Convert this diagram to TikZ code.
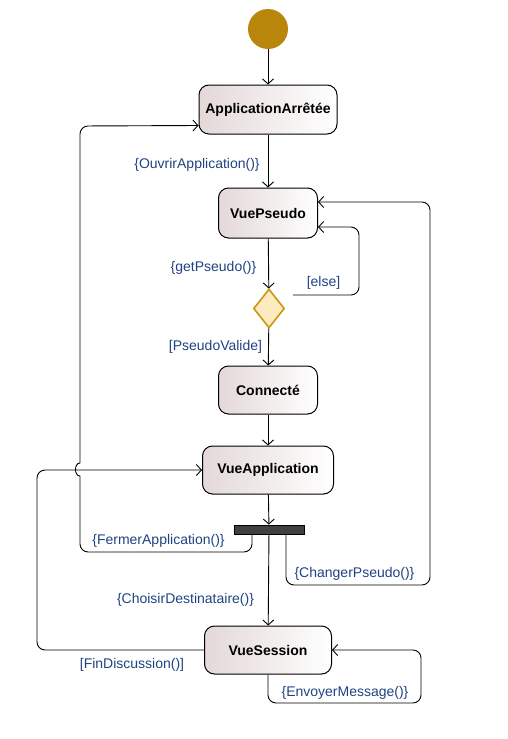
\documentclass[tikz,border=0pt]{standalone}
\usepackage{fontspec}
\setmainfont{Liberation Sans}
\usetikzlibrary{arrows.meta,shapes.geometric}

\definecolor{guardblue}{HTML}{1F4382}
\definecolor{startgold}{HTML}{B8860B}
\definecolor{decfill}{HTML}{FDEBC0}
\definecolor{decline}{HTML}{C9960F}
\definecolor{stateshade}{HTML}{E4D8D8}
\definecolor{barfill}{HTML}{404040}

\tikzset{
  state/.style={draw, line width=1pt, rounded corners=10pt, left color=stateshade, right color=white,
    font=\bfseries\fontsize{14}{16}\selectfont, minimum height=48pt, inner sep=0pt},
  flow/.style={line width=0.9pt, rounded corners=8pt, -{Straight Barb[length=5pt,width=11pt]}},
  guard/.style={text=guardblue, font=\fontsize{14}{16}\selectfont, inner sep=0pt}
}

\begin{document}
\begin{tikzpicture}[x=1pt,y=-1pt]
  \useasboundingbox (0,0) rectangle (508,739);

  % states
  \node[circle, fill=startgold, minimum size=40pt, inner sep=0pt] (start) at (268,29) {};
  \node[state, minimum width=138pt, minimum height=49pt] (arret) at (268,109.5) {ApplicationArrêtée};
  \node[state, minimum width=99pt, minimum height=50pt] (pseudo) at (268,213) {VuePseudo};
  \node[diamond, draw=decline, fill=decfill, line width=1.6pt, minimum width=31pt, minimum height=39pt, inner sep=0pt] (choix) at (269,308.5) {};
  \node[state, minimum width=99pt] (connecte) at (268,390) {Connecté};
  \node[state, minimum width=131pt] (vueapp) at (268,470) {VueApplication};
  \node[draw, fill=barfill, line width=0.8pt, minimum width=70pt, minimum height=9pt, inner sep=0pt] (fork) at (269,529.5) {};
  \node[state, minimum width=127pt] (session) at (268,650) {VueSession};

  % loose ends
  \coordinate (elsestart) at (293,295);

  % transitions
  \draw[flow] (start) -- (arret);
  \draw[flow] (arret) -- (pseudo);
  \draw[flow] (pseudo) -- (choix);
  \draw[flow] (choix) -- (connecte);
  \draw[flow] (connecte) -- (vueapp);
  \draw[flow] (vueapp) -- (fork);
  \draw[flow] (fork) -- (session);
  \draw[flow] (elsestart) -- (359,295) -- (359,227) -- ([yshift=-14pt]pseudo.east);
  \draw[flow] ([xshift=17pt]fork.south) -- (286,585) -- (430,585) -- (430,202) -- ([yshift=11pt]pseudo.east);
  \draw[flow] ([xshift=-17pt]fork.south) -- (252,552) -- (80,552) [sharp corners] -- (80,476)
    .. controls (74,476) and (74,463) .. (80,463) [rounded corners=8pt] -- (80,126) -- ([yshift=-16pt]arret.west);
  \draw[flow] (session.west) -- (37,650) -- (37,470) -- (vueapp.west);
  \draw[flow] (session.south) -- (268,703) -- (421,703) -- (421,650) -- (session.east);

  % guards
  \node[guard] (g1) at (197,165) {\{OuvrirApplication()\}};
  \node[guard] (g2) at (213.5,268) {\{getPseudo()\}};
  \node[guard] (g3) at (323.5,283) {[else]};
  \node[guard] (g4) at (215.5,347) {[PseudoValide]};
  \node[guard] (g5) at (158.5,541) {\{FermerApplication()\}};
  \node[guard] (g6) at (354.5,574) {\{ChangerPseudo()\}};
  \node[guard] (g7) at (185.5,600) {\{ChoisirDestinataire()\}};
  \node[guard] (g8) at (132,665) {[FinDiscussion()]};
  \node[guard] (g9) at (345,693) {\{EnvoyerMessage()\}};
\end{tikzpicture}
\end{document}
